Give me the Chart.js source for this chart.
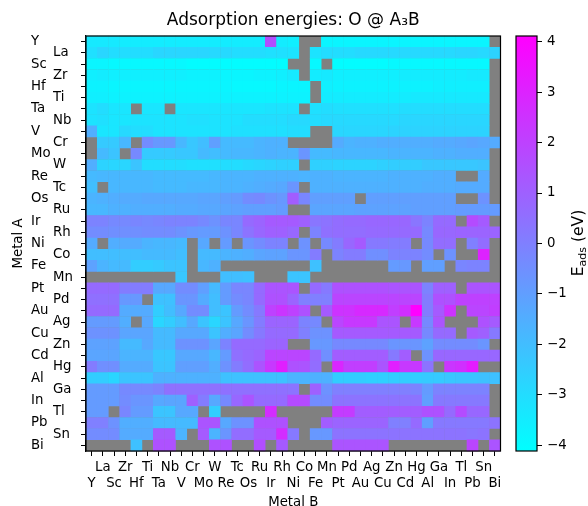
<!DOCTYPE html>
<html>
<head>
<meta charset="utf-8">
<title>Adsorption energies</title>
<script src="https://cdn.jsdelivr.net/npm/chart.js@4/dist/chart.umd.min.js"></script>
<style>
  html, body { margin: 0; padding: 0; background: #fff; }
  #wrap { position: relative; width: 588px; height: 506px; overflow: hidden; }
  #heatmap { position: absolute; left: 0; top: 0; }
  #colorbar { position: absolute; left: 500px; top: 0; }
</style>
</head>
<body>
<div id="wrap">
  <canvas id="heatmap" width="588" height="506"></canvas>
  <canvas id="colorbar" width="88" height="506"></canvas>
</div>
<script>
var n = null; // no value: the gray cells

var metals = ['Y', 'La', 'Sc', 'Zr', 'Hf', 'Ti', 'Ta', 'Nb', 'V', 'Cr', 'Mo', 'W', 'Re', 'Tc', 'Os', 'Ru', 'Ir', 'Rh', 'Ni', 'Co', 'Fe', 'Mn', 'Pt', 'Pd', 'Au', 'Ag', 'Cu', 'Zn', 'Cd', 'Hg', 'Al', 'Ga', 'In', 'Tl', 'Pb', 'Sn', 'Bi'];
var colorbarTicks = [-4, -3, -2, -1, 0, 1, 2, 3, 4];
var colorRange = [-4.11, 4.11];

// one row per Metal A, one column per Metal B (eV)
var energies = [
  [-3.4,-3.4,-3.4,-3.5,-3.5,-3.5,-3.5,-3.5,-3.5,-3.5, -3.5,-3.5,-3.5,-3.5,-3.5,-3.5,1.6,-3.5,-3.6,n, n,-3.8,-3.8,-3.8,-3.8,-3.8,-3.8,-3.8,-3.8,-3.8, -3.8,-3.8,-3.8,-3.8,-3.8,-3.8,n],
  [-3.1,-2.8,-3.0,-3.0,-3.0,-3.0,-2.8,-2.8,-2.8,-2.8, -2.8,-2.9,-2.9,-3.0,-3.0,-3.0,-3.1,-3.1,-3.2,n, -3.2,-3.0,-3.0,-3.0,-2.9,-2.9,-2.9,-2.9,-2.9,-2.9, -2.9,-2.9,-2.9,-2.8,-2.8,-2.9,-2.7],
  [-3.8,-3.8,-3.9,-3.9,-3.9,-3.9,-3.9,-3.9,-3.9,-4.0, -4.0,-4.0,-4.0,-4.0,-4.0,-4.0,-4.0,-4.0,n,n, -3.9,n,-4.0,-4.0,-4.0,-4.0,-4.0,-3.9,-3.9,-3.9, -3.9,-3.9,-3.9,-3.9,-3.9,-3.9,n],
  [-3.6,-3.5,-3.6,-3.6,-3.6,-3.6,-3.6,-3.6,-3.6,-3.7, -3.7,-3.7,-3.8,-3.8,-3.8,-3.7,-3.7,-3.6,-3.4,n, -3.5,-3.4,-3.6,-3.6,-3.6,-3.6,-3.6,-3.6,-3.5,-3.5, -3.5,-3.5,-3.5,-3.5,-3.4,-3.4,n],
  [-3.7,-3.7,-3.8,-3.8,-3.8,-3.8,-3.8,-3.8,-3.8,-3.8, -3.8,-3.8,-3.8,-3.9,-3.9,-3.9,-3.9,-3.8,-3.8,-3.8, n,-3.6,-3.7,-3.7,-3.7,-3.7,-3.7,-3.7,-3.7,-3.7, -3.7,-3.6,-3.6,-3.6,-3.6,-3.6,n],
  [-3.6,-3.6,-3.7,-3.7,-3.7,-3.7,-3.7,-3.7,-3.7,-3.7, -3.7,-3.7,-3.7,-3.7,-3.7,-3.7,-3.7,-3.7,-3.7,-3.7, n,-3.5,-3.5,-3.5,-3.5,-3.5,-3.5,-3.5,-3.5,-3.4, -3.4,-3.4,-3.4,-3.4,-3.4,-3.4,n],
  [-3.2,-3.0,-3.3,-3.3,n,-3.3,-3.3,n,-3.3,-3.3, -3.3,-3.3,-3.3,-3.3,-3.3,-3.3,-3.2,-3.2,-3.2,n, -3.1,-3.0,-3.1,-3.1,-3.1,-3.1,-3.1,-3.1,-3.0,-3.0, -3.0,-3.0,-3.0,-3.0,-3.0,-3.0,n],
  [-3.2,-3.1,-3.3,-3.3,-3.2,-3.2,-3.2,-3.2,-3.2,-3.1, -3.1,-3.2,-3.2,-3.2,-3.0,-3.0,-3.0,-3.0,-2.9,-2.9, -3.0,-2.9,-2.9,-2.9,-2.9,-2.9,-2.9,-2.9,-2.8,-2.8, -2.8,-2.8,-2.8,-2.8,-2.8,-2.8,n],
  [-1.5,-3.3,-3.3,-2.9,-3.0,-3.0,-3.2,-3.2,-3.2,-3.2, -3.2,-3.2,-3.2,-3.1,-3.1,-3.1,-3.1,-3.1,-3.0,-3.0, n,n,-2.8,-2.8,-2.8,-2.8,-2.8,-2.7,-2.7,-2.7, -2.7,-2.7,-2.7,-2.7,-2.7,-2.7,n],
  [n,-2.4,-2.4,-1.8,n,-0.4,-0.8,-0.8,-1.8,-2.3, -2.0,-1.0,-1.9,-1.9,-1.9,-1.7,-1.6,-1.6,n,n, n,n,-1.4,-1.7,-1.6,-1.6,-1.5,-1.5,-1.5,-1.5, -1.5,-1.4,-1.4,-1.3,-1.2,-1.3,-1.4],
  [n,-1.9,-2.2,n,-0.3,-2.4,-2.4,-2.4,-2.3,-2.3, -1.9,-2.0,-1.9,-1.8,-1.8,-1.7,-1.6,-1.7,-1.7,-0.7, -1.9,-1.9,-1.8,-1.8,-1.8,-1.8,-1.8,-1.7,-1.7,-1.7, -1.7,-1.6,-1.6,-1.5,-1.5,-1.5,n],
  [-1.5,-2.7,-2.8,-2.8,-2.2,-3.0,-3.0,-3.0,-3.0,-3.1, -3.1,-3.1,-3.0,-3.0,-2.9,-2.8,-2.7,-2.6,-2.6,n, -2.6,-2.6,-2.7,-2.7,-2.7,-2.7,-2.6,-2.5,-2.5,-2.5, -2.3,-2.3,-2.3,-2.3,-2.3,-2.2,n],
  [-1.9,-1.8,-1.8,-1.8,-1.8,-1.8,-1.9,-1.9,-1.9,-1.9, -1.9,-1.8,-1.7,-1.7,-1.7,-1.6,-1.6,-1.6,-1.6,-1.7, -1.6,-1.6,-1.7,-1.7,-1.7,-1.7,-1.7,-1.6,-1.6,-1.6, -1.6,-1.5,-1.5,n,n,-1.4,n],
  [-2.0,n,-1.8,-1.8,-1.8,-1.8,-1.9,-1.9,-1.9,-1.8, -1.8,-1.8,-1.7,-1.7,-1.6,-1.5,-1.4,-1.3,-0.7,n, -1.6,-1.6,-1.6,-1.6,-1.6,-1.6,-1.6,-1.6,-1.6,-1.6, -1.5,-1.5,-1.5,-1.4,-1.4,-1.4,n],
  [-1.7,-1.6,-1.5,-1.4,-1.4,-1.3,-1.3,-1.3,-1.3,-1.3, -1.2,-1.2,-1.0,-0.9,-0.4,-0.3,-0.6,-0.8,1.1,-0.2, -1.0,-1.0,-1.0,-1.0,n,-1.0,-1.0,-1.0,-1.0,-1.0, -1.0,-1.0,-1.0,n,n,-0.6,n],
  [-1.8,-1.8,-1.6,-1.6,-1.5,-1.5,-1.5,-1.5,-1.4,-1.4, -1.3,-1.3,-1.2,-1.1,-1.0,-1.0,-1.0,-0.9,n,n, -1.2,-1.2,-1.2,-1.2,-1.1,-1.1,-1.1,-1.1,-1.1,-1.0, -1.0,-1.0,-1.0,-0.9,-0.9,-0.9,-0.9],
  [-0.1,-0.1,-0.3,-0.3,-0.2,-0.3,-0.2,-0.1,-0.1,-0.1, -0.3,-0.6,-0.2,-0.2,0.7,0.9,1.2,1.2,1.2,1.0, 0.3,0.4,0.6,0.7,0.7,0.8,0.8,0.8,0.8,0.3, -0.1,0.7,0.7,n,1.7,1.2,n],
  [-0.4,-0.4,-0.5,-0.5,-0.5,-0.4,-0.4,-0.4,-0.6,-0.8, -0.9,-0.9,-0.6,-0.2,0.4,0.8,1.0,1.0,0.8,n, -0.1,0.5,0.6,0.6,0.6,0.7,0.7,0.7,0.7,0.7, -0.3,0.8,0.8,0.9,0.9,0.9,0.9],
  [-1.4,n,-1.5,-1.4,-1.4,-1.7,-1.8,-1.8,-1.9,n, -1.3,n,-0.9,n,-0.7,-0.4,-0.1,-0.1,n,-0.6, n,-0.3,0.1,0.8,1.2,0.2,0.2,0.1,0.1,n, -0.3,0.6,0.6,n,0.0,0.6,n],
  [-2.0,-2.0,-2.0,-2.0,-2.0,-1.9,-1.9,-1.9,-2.0,n, -1.9,-1.9,-1.7,-1.6,-1.5,-1.2,-1.1,-1.1,-0.7,-0.7, 0.1,n,-0.1,0.1,0.1,-0.5,-0.5,-0.1,-0.1,-0.1, -0.4,n,-0.6,n,n,3.0,n],
  [-1.1,-1.7,-1.9,-1.9,-2.5,-2.5,-2.4,-2.2,-2.2,n, -1.8,-1.6,n,n,n,n,n,n,n,n, -2.1,n,n,n,n,n,n,-0.9,-0.8,n, -1.0,-1.0,n,-0.2,-0.1,-0.1,n],
  [n,n,n,n,n,n,n,n,-2.3,n, n,n,-2.0,-2.0,-2.1,n,n,n,-2.2,-2.2, n,n,n,n,n,n,n,n,n,n, n,n,n,n,n,n,n],
  [0.7,0.7,0.7,0.1,0.1,0.1,-1.3,-1.3,-0.4,-0.4, -1.0,-1.9,-0.9,-0.2,-0.2,0.7,1.4,1.4,1.4,n, 0.7,0.2,1.5,1.5,1.5,1.5,1.5,1.4,1.4,1.4, -0.1,1.0,1.0,n,1.4,1.4,1.4],
  [0.5,0.5,0.5,-0.8,-0.8,n,-2.1,-2.1,-0.7,-0.7, -1.4,-2.0,-0.9,-0.4,-0.2,0.7,1.5,1.5,0.9,0.0, 0.0,0.0,1.9,1.9,1.9,1.9,1.9,1.9,1.9,1.9, 0.1,1.5,1.5,2.0,2.0,2.0,2.0],
  [0.7,0.7,0.7,-1.4,-1.4,-1.4,-2.5,-2.0,-1.3,-0.4, -0.4,-2.0,-2.2,-0.9,-0.4,0.2,2.0,2.4,2.0,1.5, n,1.2,2.5,2.5,2.8,2.8,2.8,2.1,2.6,4.1, 0.1,1.2,2.5,n,1.9,1.9,2.1],
  [-0.9,-0.9,-0.9,-1.5,n,-1.3,-2.8,-2.5,-2.0,-1.3, -2.2,-2.8,-2.2,-1.3,-0.7,0.1,0.9,0.9,0.9,-0.1, -0.3,n,1.9,2.3,2.3,2.3,1.4,1.4,n,2.3, -0.3,1.4,n,n,n,1.5,1.2],
  [-0.6,-0.6,-0.6,-1.2,-1.2,-1.2,-1.9,-1.9,-1.3,-1.3, -1.3,-2.2,-1.5,-1.2,-0.4,0.2,0.7,0.7,0.7,0.0, -0.6,-0.6,1.2,1.2,1.2,1.2,1.2,1.2,1.2,1.2, -0.3,0.7,0.7,n,1.2,1.0,0.2],
  [-1.1,-1.1,-1.1,-1.9,-1.9,-1.3,-1.9,-1.9,-0.6,-0.6, -0.6,-1.2,-0.1,0.7,0.7,0.7,0.9,0.9,n,n, -0.8,-0.8,-0.3,-0.3,-0.3,-0.3,-0.3,-0.7,-0.7,-0.7, -1.1,-0.4,-0.4,-0.4,-0.4,-0.7,n],
  [-1.2,-1.2,-1.2,-1.7,-1.7,-1.7,-2.3,-2.3,-1.3,-1.3, -1.3,-1.8,-0.9,0.5,0.7,0.9,1.9,1.9,1.9,1.9, 0.7,-0.5,1.1,1.1,1.1,1.1,1.1,0.2,1.1,n, -0.6,0.8,0.8,0.8,0.8,0.8,0.8],
  [0.1,-0.5,-0.5,-1.4,-1.4,-1.4,-2.2,-2.2,-1.0,-1.0, -1.0,-1.5,-0.6,0.1,0.6,1.4,2.3,3.1,1.5,1.4, 0.6,n,2.9,2.1,2.1,2.1,1.4,3.1,2.3,2.3, 0.4,n,2.4,2.6,3.2,n,n],
  [-2.5,-2.5,-2.8,-2.2,-2.2,-2.2,-1.6,-1.6,-1.6,-1.6, -1.6,-1.6,-2.1,-2.1,-2.1,-2.1,-2.1,-2.1,-1.7,-1.7, -1.6,-1.6,-2.5,-2.5,-2.5,-2.6,-2.6,-2.5,-2.5,-2.5, -2.4,-2.4,-2.3,-2.2,-2.2,-2.1,-2.1],
  [-0.9,-0.9,-0.9,-0.3,-0.3,-0.3,-0.1,0.5,0.5,0.5, 0.5,0.5,0.5,0.5,0.5,0.5,0.5,0.5,0.4,n, 1.0,-0.6,0.0,0.0,0.0,0.0,0.0,0.0,0.0,-0.1, -0.9,-0.1,-0.1,-0.1,-0.1,-0.1,n],
  [-0.9,-0.9,-0.9,-0.4,-0.7,-0.7,-1.3,-1.2,-1.2,1.0, 0.1,-1.3,-0.3,0.8,1.4,0.7,0.7,0.7,1.7,1.7, -0.4,-0.4,0.4,0.4,0.4,0.4,0.4,0.4,0.4,0.4, -1.0,0.2,0.2,0.2,0.2,0.2,n],
  [-0.9,-0.9,n,-0.2,-0.9,-0.9,-2.2,-2.2,-1.3,-1.3, n,-2.5,n,n,n,n,2.7,n,n,n, n,n,2.2,2.2,1.1,1.1,1.1,1.1,1.1,1.1, 1.5,1.5,0.7,1.7,0.8,0.8,n],
  [0.0,0.0,-0.6,-1.5,-1.5,-1.5,-1.9,-1.9,-1.9,-1.9, 1.4,1.4,-1.3,-0.6,-0.6,1.5,1.5,1.5,n,n, n,1.1,0.9,0.9,0.9,0.9,0.9,0.0,0.0,0.7, -1.0,0.2,0.2,0.2,0.2,0.2,0.4],
  [-0.4,-0.4,-0.4,-1.4,-1.4,-1.4,1.2,1.2,-1.7,n, 1.2,-1.7,-0.7,0.6,0.6,1.2,1.2,2.7,0.2,n, -0.8,-0.8,0.4,0.4,0.4,0.4,0.4,0.4,0.4,0.4, 0.4,0.4,0.4,0.4,0.3,0.4,n],
  [n,n,n,n,-2.1,n,1.5,1.5,n,n, n,1.5,1.5,n,n,1.6,n,1.2,n,n, n,n,1.4,1.4,1.4,1.4,1.4,n,n,n, n,n,n,n,1.9,n,1.4]
];

var fontFamily = '"DejaVu Sans", sans-serif';
var tickFont = { family: fontFamily, size: 13.3 };

// matplotlib "cool": cyan to magenta
function coolColor(v) {
  var t = (v - colorRange[0]) / (colorRange[1] - colorRange[0]);
  t = Math.max(0, Math.min(1, t));
  return 'rgb(' + Math.round(255 * t) + ',' + Math.round(255 * (1 - t)) + ',255)';
}

var cells = [];
energies.forEach(function (row, i) {
  row.forEach(function (v, j) {
    if (v !== null) cells.push({ x: metals[j], y: metals[i], v: v });
  });
});

// gray behind the cells, black box around the plot
var plotBox = {
  id: 'plotBox',
  beforeDatasetsDraw: function (chart) {
    var a = chart.chartArea, ctx = chart.ctx;
    ctx.save();
    ctx.fillStyle = '#808080';
    ctx.fillRect(a.left, a.top, a.width, a.height);
    ctx.restore();
  },
  afterDraw: function (chart) {
    var a = chart.chartArea, ctx = chart.ctx;
    ctx.save();
    ctx.strokeStyle = '#000';
    ctx.lineWidth = 1.2;
    ctx.strokeRect(a.left, a.top, a.width, a.height);
    ctx.restore();
  }
};

function fixWidth(w) {
  return function (scale) { scale.width = w; };
}

new Chart(document.getElementById('heatmap'), {
  type: 'scatter',
  data: {
    datasets: [{
      data: cells,
      xAxisID: 'x',
      yAxisID: 'y',
      pointStyle: 'rect',
      pointBorderWidth: 0,
      pointRadius: function (c) {
        var a = c.chart.chartArea;
        return a ? a.width / metals.length / Math.SQRT2 + 0.3 : 8;
      },
      backgroundColor: function (c) {
        return c.raw ? coolColor(c.raw.v) : '#808080';
      }
    }]
  },
  options: {
    responsive: false,
    animation: false,
    events: [],
    layout: { padding: { left: 0, right: 87.5, top: 0, bottom: 0 } },
    plugins: {
      legend: { display: false },
      tooltip: { enabled: false },
      title: {
        display: true,
        fullSize: false,
        text: 'Adsorption energies: O @ A₃B',
        color: '#000',
        font: { family: fontFamily, size: 17, weight: 'normal' },
        padding: { top: 10, bottom: 5.6 }
      }
    },
    scales: {
      x: {
        type: 'category',
        labels: metals,
        offset: true,
        afterFit: function (scale) { scale.height = 55; },
        grid: { drawOnChartArea: false, tickLength: 5, tickColor: '#000', offset: false },
        border: { color: '#000', width: 1.2 },
        ticks: {
          autoSkip: false,
          maxRotation: 0,
          minRotation: 0,
          padding: 3,
          color: '#000',
          font: { family: fontFamily, size: 13.3, lineHeight: 1.23 },
          callback: function (value, i) {
            return i % 2 ? [metals[i], ''] : ['', metals[i]];
          }
        },
        title: { display: true, text: 'Metal B', color: '#000', font: tickFont, padding: { top: 0, bottom: -5 } }
      },
      y: {
        type: 'category',
        labels: metals,
        offset: true,
        position: 'left',
        weight: 0,
        afterFit: fixWidth(33),
        grid: { drawOnChartArea: false, tickLength: 5, tickColor: '#000', offset: false },
        border: { color: '#000', width: 1.2 },
        ticks: {
          autoSkip: false,
          crossAlign: 'far',
          color: '#000',
          font: tickFont,
          callback: function (value, i) { return i % 2 ? metals[i] : ''; }
        }
      },
      yOuter: {
        type: 'category',
        labels: metals,
        offset: true,
        position: 'left',
        weight: 1,
        afterFit: fixWidth(22),
        grid: { display: false },
        border: { display: false },
        ticks: {
          autoSkip: false,
          crossAlign: 'far',
          color: '#000',
          font: tickFont,
          callback: function (value, i) { return i % 2 ? '' : metals[i]; }
        }
      },
      yTitle: {
        type: 'category',
        labels: metals,
        position: 'left',
        weight: 2,
        afterFit: fixWidth(31),
        grid: { display: false },
        border: { display: false },
        ticks: { display: false },
        title: { display: true, text: 'Metal A', color: '#000', font: tickFont, padding: { top: 11, bottom: 0 } }
      }
    }
  },
  plugins: [plotBox]
});

// rotated colorbar label, "ads" as subscript
var colorbarLabel = {
  id: 'colorbarLabel',
  afterDraw: function (chart) {
    var ctx = chart.ctx;
    ctx.save();
    ctx.translate(78, 243);
    ctx.rotate(-Math.PI / 2);
    ctx.fillStyle = '#000';
    ctx.textBaseline = 'alphabetic';
    var big = '15.5px ' + fontFamily, small = '11px ' + fontFamily;
    ctx.font = big;
    var w1 = ctx.measureText('E').width, w3 = ctx.measureText(' (eV)').width;
    ctx.font = small;
    var w2 = ctx.measureText('ads').width;
    var x = -(w1 + w2 + w3) / 2;
    ctx.font = big;
    ctx.fillText('E', x, 5);
    ctx.font = small;
    ctx.fillText('ads', x + w1, 8);
    ctx.font = big;
    ctx.fillText(' (eV)', x + w1 + w2, 5);
    ctx.restore();
  }
};

new Chart(document.getElementById('colorbar'), {
  type: 'bar',
  data: {
    labels: ['E'],
    datasets: [{
      data: [colorRange],
      barPercentage: 1,
      categoryPercentage: 1,
      borderSkipped: false,
      backgroundColor: function (c) {
        var a = c.chart.chartArea;
        if (!a) return '#808080';
        var g = c.chart.ctx.createLinearGradient(0, a.bottom, 0, a.top);
        g.addColorStop(0, 'rgb(0,255,255)');
        g.addColorStop(1, 'rgb(255,0,255)');
        return g;
      }
    }]
  },
  options: {
    responsive: false,
    animation: false,
    events: [],
    layout: { padding: { left: 16, right: 0, top: 36, bottom: 55 } },
    plugins: { legend: { display: false }, tooltip: { enabled: false } },
    scales: {
      x: { display: false },
      y: {
        position: 'right',
        min: colorRange[0],
        max: colorRange[1],
        afterBuildTicks: function (scale) {
          scale.ticks = colorbarTicks.map(function (v) { return { value: v }; });
        },
        afterFit: fixWidth(51),
        grid: { drawOnChartArea: false, tickLength: 5, tickColor: '#000' },
        border: { display: false },
        ticks: {
          padding: 5,
          color: '#000',
          font: tickFont,
          callback: function (value) { return String(value).replace('-', '−'); }
        }
      }
    }
  },
  plugins: [plotBox, colorbarLabel]
});
</script>
</body>
</html>
